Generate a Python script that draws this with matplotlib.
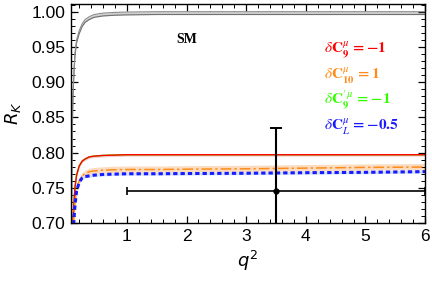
import numpy as np
import matplotlib.pyplot as plt

plt.rcParams['font.family'] = ['Liberation Sans', 'DejaVu Sans']
plt.rcParams['mathtext.fontset'] = 'stix'

# q^2 grid (GeV^2) and R_K curves
q2 = [0.07, 0.08, 0.09, 0.10, 0.116, 0.13, 0.156, 0.20, 0.25, 0.30, 0.37,
      0.45, 0.60, 0.80, 1.0, 1.5, 2.0, 3.0, 4.0, 5.0, 6.0]
rk_sm = [0.70, 0.80, 0.86, 0.89, 0.921, 0.94, 0.958, 0.971, 0.981, 0.987,
         0.991, 0.994, 0.996, 0.997, 0.9975, 0.998, 0.998, 0.998, 0.998,
         0.998, 0.998]
rk_c9 = [0.56, 0.64, 0.69, 0.71, 0.735, 0.751, 0.768, 0.781, 0.788, 0.791,
         0.794, 0.795, 0.796, 0.7965, 0.797, 0.797, 0.797, 0.797, 0.797,
         0.797, 0.797]
rk_c10 = [0.545, 0.623, 0.672, 0.691, 0.716, 0.731, 0.748, 0.760, 0.767,
          0.770, 0.773, 0.774, 0.775, 0.7757, 0.776, 0.776, 0.7765, 0.777,
          0.778, 0.779, 0.7795]
rk_cl = [0.54, 0.618, 0.667, 0.686, 0.71, 0.725, 0.745, 0.758, 0.764,
         0.766, 0.767, 0.768, 0.769, 0.7695, 0.770, 0.770, 0.7703, 0.7707,
         0.7715, 0.772, 0.773]

# LHCb measurement, 1 < q^2 < 6
meas_q2 = 3.5
meas_rk = 0.745
meas_up = 0.090
meas_dn = 0.074
meas_bin = [1.0, 6.0]

q2 = np.array(q2)
sm = np.array(rk_sm)
c9 = np.array(rk_c9)
c10 = np.array(rk_c10)
cl = np.array(rk_cl)

fig = plt.figure(figsize=(4.32, 2.82), dpi=100)
ax = fig.add_axes([0.164, 0.209, 0.820, 0.777])

# SM band
ax.fill_between(q2, sm - 0.002, sm + 0.002, color='#d0d0d0', lw=0)
ax.plot(q2, sm - 0.002, color='#707070', lw=0.8)
ax.plot(q2, sm + 0.002, color='#8c8c8c', lw=0.8)

# NP bands
ax.fill_between(q2, c9 - 0.002, c9 + 0.001, color='#f8c8c8', lw=0)
ax.fill_between(q2, c10 - 0.004, c10 + 0.005, color='#fbdcc0', lw=0)
ax.fill_between(q2, cl - 0.002, cl + 0.002, color='#d2e2fb', lw=0)

ax.plot(q2, c9, color='#33ff00', lw=1.0)
ax.plot(q2, c9, color='red', lw=1.0)
ax.plot(q2, c10, color='#ff8c1a', lw=1.1, dashes=(7, 2, 1.5, 2))
ax.plot(q2, cl, color='#1a1aff', lw=2.2, dashes=(1.4, 1.0))

# measurement
ax.errorbar(meas_q2, meas_rk, yerr=[[meas_dn], [meas_up]], fmt='none',
            ecolor='black', elinewidth=1.5, capsize=4, capthick=1.4)
ax.errorbar(meas_q2, meas_rk,
            xerr=[[meas_q2 - meas_bin[0]], [meas_bin[1] - meas_q2]],
            fmt='o', ms=3.5, color='black', elinewidth=1.2, capsize=3,
            capthick=1.2)

ax.set_xlim(0.06, 6)
ax.set_ylim(0.70, 1.011)
ax.set_xticks([1, 2, 3, 4, 5, 6])
ax.set_xticks(np.arange(0.2, 6.0, 0.2), minor=True)
ax.set_yticks([0.70, 0.75, 0.80, 0.85, 0.90, 0.95, 1.00])
ax.set_yticks(np.arange(0.71, 1.011, 0.01), minor=True)
ax.yaxis.set_major_formatter(plt.FormatStrFormatter('%.2f'))
ax.tick_params(which='both', direction='in', top=True, right=True,
               labelsize=12.5)
ax.tick_params(which='major', length=5, width=0.9, pad=4)
ax.tick_params(which='minor', length=3, width=0.7)
for s in ax.spines.values():
    s.set_linewidth(1.0)

ax.set_xlabel(r'$q^2$', fontsize=13, math_fontfamily='dejavusans',
              labelpad=4)
ax.set_ylabel(r'$R_K$', fontsize=13, math_fontfamily='dejavusans',
              labelpad=6)

ax.text(2.0, 0.961, 'SM', fontsize=10, fontweight='bold',
        family='Liberation Serif', ha='center', va='center')
ax.text(4.3, 0.9457, r'$\delta\mathbf{C}_{\mathbf{9}}^{\mu}\mathbf{\,=-1}$',
        color='red', fontsize=11, va='center')
ax.text(4.3, 0.9088, r'$\delta\mathbf{C}_{\mathbf{10}}^{\mu}\mathbf{\,=1}$',
        color='#ff8c1a', fontsize=11, va='center')
ax.text(4.3, 0.8747,
        r'$\delta\mathbf{C}_{\mathbf{9}}^{\prime\,\mu}\mathbf{\,=-1}$',
        color='#33ff00', fontsize=11, va='center')
ax.text(4.3, 0.8364, r'$\delta\mathbf{C}_{L}^{\mu}\mathbf{\,=-0.5}$',
        color='#1a1aff', fontsize=11, va='center')

fig.savefig('out.png', dpi=100)
